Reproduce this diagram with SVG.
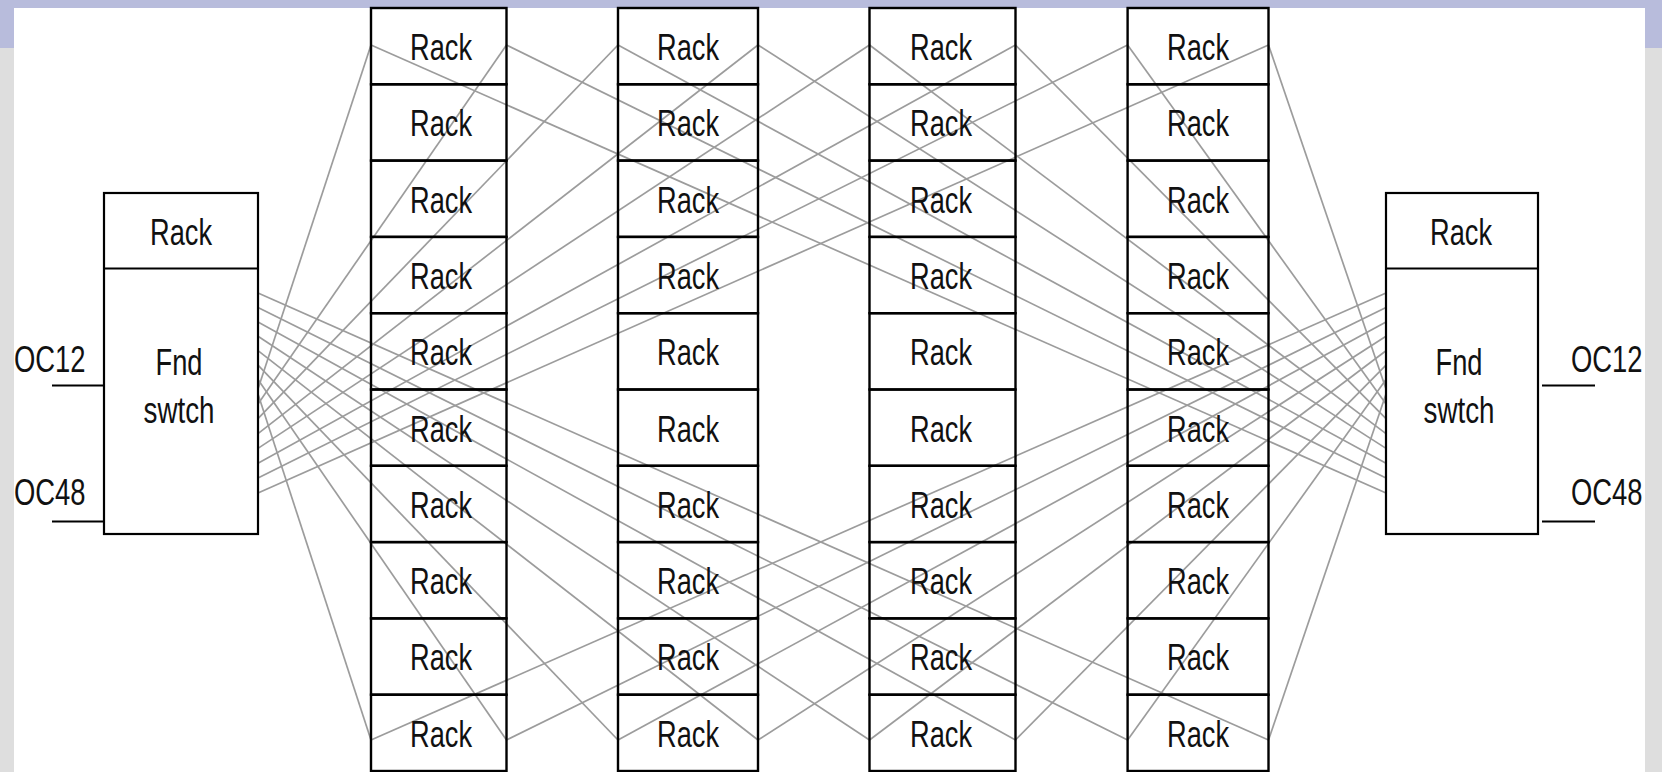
<svg xmlns="http://www.w3.org/2000/svg" width="1662" height="772" viewBox="0 0 1662 772">
<style>
.bx{fill:none;stroke:#000;stroke-width:2.4}
.sw{fill:none;stroke:#000;stroke-width:2.2}
.t{font-family:"Liberation Sans",Arial,sans-serif;font-size:37px;fill:#111;text-anchor:middle}
.lbl{font-family:"Liberation Sans",Arial,sans-serif;font-size:27.4px;fill:#111}
#connectors line{stroke:#9c9c9c;stroke-width:1.7}
.oc{stroke:#000;stroke-width:2}
</style>
<rect x="0" y="0" width="1662" height="772" fill="#dedede"/>
<rect x="0" y="0" width="1662" height="48" fill="#b8bcdc"/>
<rect x="14" y="8" width="1631" height="764" fill="#fff"/>
<g id="connectors">
<line x1="258" y1="389" x2="371" y2="45"/>
<line x1="258" y1="403.9" x2="506.5" y2="45"/>
<line x1="258" y1="418.7" x2="618" y2="45"/>
<line x1="258" y1="433.6" x2="758" y2="45"/>
<line x1="258" y1="448.4" x2="869.5" y2="45"/>
<line x1="258" y1="463.3" x2="1015.5" y2="45"/>
<line x1="258" y1="478.1" x2="1127.6" y2="45"/>
<line x1="258" y1="493" x2="1268.5" y2="45"/>
<line x1="258" y1="394" x2="371" y2="740"/>
<line x1="258" y1="379.6" x2="506.5" y2="740"/>
<line x1="258" y1="365.1" x2="618" y2="740"/>
<line x1="258" y1="350.7" x2="758" y2="740"/>
<line x1="258" y1="336.3" x2="869.5" y2="740"/>
<line x1="258" y1="321.9" x2="1015.5" y2="740"/>
<line x1="258" y1="307.4" x2="1127.6" y2="740"/>
<line x1="258" y1="293" x2="1268.5" y2="740"/>
<line x1="1386" y1="389" x2="1268.5" y2="45"/>
<line x1="1386" y1="403.9" x2="1127.6" y2="45"/>
<line x1="1386" y1="418.7" x2="1015.5" y2="45"/>
<line x1="1386" y1="433.6" x2="869.5" y2="45"/>
<line x1="1386" y1="448.4" x2="758" y2="45"/>
<line x1="1386" y1="463.3" x2="618" y2="45"/>
<line x1="1386" y1="478.1" x2="506.5" y2="45"/>
<line x1="1386" y1="493" x2="371" y2="45"/>
<line x1="1386" y1="394" x2="1268.5" y2="740"/>
<line x1="1386" y1="379.6" x2="1127.6" y2="740"/>
<line x1="1386" y1="365.1" x2="1015.5" y2="740"/>
<line x1="1386" y1="350.7" x2="869.5" y2="740"/>
<line x1="1386" y1="336.3" x2="758" y2="740"/>
<line x1="1386" y1="321.9" x2="618" y2="740"/>
<line x1="1386" y1="307.4" x2="506.5" y2="740"/>
<line x1="1386" y1="293" x2="371" y2="740"/>
</g>
<g id="switch-left">
<rect class="sw" x="104" y="193" width="154" height="341"/>
<line class="oc" x1="104" y1="268.5" x2="258" y2="268.5"/>
<text class="t" x="181" y="245" textLength="62" lengthAdjust="spacingAndGlyphs">Rack</text>
<text class="t" x="179" y="375" textLength="47" lengthAdjust="spacingAndGlyphs">Fnd</text>
<text class="t" x="179" y="423" textLength="71" lengthAdjust="spacingAndGlyphs">swtch</text>
</g>
<g id="switch-right">
<rect class="sw" x="1386" y="193" width="152" height="341"/>
<line class="oc" x1="1386" y1="268.5" x2="1538" y2="268.5"/>
<text class="t" x="1461" y="245" textLength="62" lengthAdjust="spacingAndGlyphs">Rack</text>
<text class="t" x="1459" y="375" textLength="47" lengthAdjust="spacingAndGlyphs">Fnd</text>
<text class="t" x="1459" y="423" textLength="71" lengthAdjust="spacingAndGlyphs">swtch</text>
</g>
<g id="uplinks">
<line class="oc" x1="52" y1="385.5" x2="104" y2="385.5"/>
<line class="oc" x1="52" y1="521.5" x2="104" y2="521.5"/>
<line class="oc" x1="1542" y1="385.5" x2="1595" y2="385.5"/>
<line class="oc" x1="1542" y1="521.5" x2="1595" y2="521.5"/>
<text class="lbl" transform="translate(14,372) scale(1,1.35)">OC12</text>
<text class="lbl" transform="translate(14,505) scale(1,1.35)">OC48</text>
<text class="lbl" transform="translate(1571,372) scale(1,1.35)">OC12</text>
<text class="lbl" transform="translate(1571,505) scale(1,1.35)">OC48</text>
</g>
<g id="col1">
<g id="r1-1"><rect class="bx" x="371" y="8" width="135.5" height="76.3"/><text class="t" x="441" y="60" textLength="62" lengthAdjust="spacingAndGlyphs">Rack</text></g>
<g id="r1-2"><rect class="bx" x="371" y="84.3" width="135.5" height="76.3"/><text class="t" x="441" y="136.3" textLength="62" lengthAdjust="spacingAndGlyphs">Rack</text></g>
<g id="r1-3"><rect class="bx" x="371" y="160.6" width="135.5" height="76.3"/><text class="t" x="441" y="212.6" textLength="62" lengthAdjust="spacingAndGlyphs">Rack</text></g>
<g id="r1-4"><rect class="bx" x="371" y="236.9" width="135.5" height="76.3"/><text class="t" x="441" y="288.9" textLength="62" lengthAdjust="spacingAndGlyphs">Rack</text></g>
<g id="r1-5"><rect class="bx" x="371" y="313.2" width="135.5" height="76.3"/><text class="t" x="441" y="365.2" textLength="62" lengthAdjust="spacingAndGlyphs">Rack</text></g>
<g id="r1-6"><rect class="bx" x="371" y="389.5" width="135.5" height="76.3"/><text class="t" x="441" y="441.5" textLength="62" lengthAdjust="spacingAndGlyphs">Rack</text></g>
<g id="r1-7"><rect class="bx" x="371" y="465.8" width="135.5" height="76.3"/><text class="t" x="441" y="517.8" textLength="62" lengthAdjust="spacingAndGlyphs">Rack</text></g>
<g id="r1-8"><rect class="bx" x="371" y="542.1" width="135.5" height="76.3"/><text class="t" x="441" y="594.1" textLength="62" lengthAdjust="spacingAndGlyphs">Rack</text></g>
<g id="r1-9"><rect class="bx" x="371" y="618.4" width="135.5" height="76.3"/><text class="t" x="441" y="670.4" textLength="62" lengthAdjust="spacingAndGlyphs">Rack</text></g>
<g id="r1-10"><rect class="bx" x="371" y="694.7" width="135.5" height="76.3"/><text class="t" x="441" y="746.7" textLength="62" lengthAdjust="spacingAndGlyphs">Rack</text></g>
</g>
<g id="col2">
<g id="r2-1"><rect class="bx" x="618" y="8" width="140" height="76.3"/><text class="t" x="688" y="60" textLength="62" lengthAdjust="spacingAndGlyphs">Rack</text></g>
<g id="r2-2"><rect class="bx" x="618" y="84.3" width="140" height="76.3"/><text class="t" x="688" y="136.3" textLength="62" lengthAdjust="spacingAndGlyphs">Rack</text></g>
<g id="r2-3"><rect class="bx" x="618" y="160.6" width="140" height="76.3"/><text class="t" x="688" y="212.6" textLength="62" lengthAdjust="spacingAndGlyphs">Rack</text></g>
<g id="r2-4"><rect class="bx" x="618" y="236.9" width="140" height="76.3"/><text class="t" x="688" y="288.9" textLength="62" lengthAdjust="spacingAndGlyphs">Rack</text></g>
<g id="r2-5"><rect class="bx" x="618" y="313.2" width="140" height="76.3"/><text class="t" x="688" y="365.2" textLength="62" lengthAdjust="spacingAndGlyphs">Rack</text></g>
<g id="r2-6"><rect class="bx" x="618" y="389.5" width="140" height="76.3"/><text class="t" x="688" y="441.5" textLength="62" lengthAdjust="spacingAndGlyphs">Rack</text></g>
<g id="r2-7"><rect class="bx" x="618" y="465.8" width="140" height="76.3"/><text class="t" x="688" y="517.8" textLength="62" lengthAdjust="spacingAndGlyphs">Rack</text></g>
<g id="r2-8"><rect class="bx" x="618" y="542.1" width="140" height="76.3"/><text class="t" x="688" y="594.1" textLength="62" lengthAdjust="spacingAndGlyphs">Rack</text></g>
<g id="r2-9"><rect class="bx" x="618" y="618.4" width="140" height="76.3"/><text class="t" x="688" y="670.4" textLength="62" lengthAdjust="spacingAndGlyphs">Rack</text></g>
<g id="r2-10"><rect class="bx" x="618" y="694.7" width="140" height="76.3"/><text class="t" x="688" y="746.7" textLength="62" lengthAdjust="spacingAndGlyphs">Rack</text></g>
</g>
<g id="col3">
<g id="r3-1"><rect class="bx" x="869.5" y="8" width="146" height="76.3"/><text class="t" x="941" y="60" textLength="62" lengthAdjust="spacingAndGlyphs">Rack</text></g>
<g id="r3-2"><rect class="bx" x="869.5" y="84.3" width="146" height="76.3"/><text class="t" x="941" y="136.3" textLength="62" lengthAdjust="spacingAndGlyphs">Rack</text></g>
<g id="r3-3"><rect class="bx" x="869.5" y="160.6" width="146" height="76.3"/><text class="t" x="941" y="212.6" textLength="62" lengthAdjust="spacingAndGlyphs">Rack</text></g>
<g id="r3-4"><rect class="bx" x="869.5" y="236.9" width="146" height="76.3"/><text class="t" x="941" y="288.9" textLength="62" lengthAdjust="spacingAndGlyphs">Rack</text></g>
<g id="r3-5"><rect class="bx" x="869.5" y="313.2" width="146" height="76.3"/><text class="t" x="941" y="365.2" textLength="62" lengthAdjust="spacingAndGlyphs">Rack</text></g>
<g id="r3-6"><rect class="bx" x="869.5" y="389.5" width="146" height="76.3"/><text class="t" x="941" y="441.5" textLength="62" lengthAdjust="spacingAndGlyphs">Rack</text></g>
<g id="r3-7"><rect class="bx" x="869.5" y="465.8" width="146" height="76.3"/><text class="t" x="941" y="517.8" textLength="62" lengthAdjust="spacingAndGlyphs">Rack</text></g>
<g id="r3-8"><rect class="bx" x="869.5" y="542.1" width="146" height="76.3"/><text class="t" x="941" y="594.1" textLength="62" lengthAdjust="spacingAndGlyphs">Rack</text></g>
<g id="r3-9"><rect class="bx" x="869.5" y="618.4" width="146" height="76.3"/><text class="t" x="941" y="670.4" textLength="62" lengthAdjust="spacingAndGlyphs">Rack</text></g>
<g id="r3-10"><rect class="bx" x="869.5" y="694.7" width="146" height="76.3"/><text class="t" x="941" y="746.7" textLength="62" lengthAdjust="spacingAndGlyphs">Rack</text></g>
</g>
<g id="col4">
<g id="r4-1"><rect class="bx" x="1127.6" y="8" width="140.9" height="76.3"/><text class="t" x="1198" y="60" textLength="62" lengthAdjust="spacingAndGlyphs">Rack</text></g>
<g id="r4-2"><rect class="bx" x="1127.6" y="84.3" width="140.9" height="76.3"/><text class="t" x="1198" y="136.3" textLength="62" lengthAdjust="spacingAndGlyphs">Rack</text></g>
<g id="r4-3"><rect class="bx" x="1127.6" y="160.6" width="140.9" height="76.3"/><text class="t" x="1198" y="212.6" textLength="62" lengthAdjust="spacingAndGlyphs">Rack</text></g>
<g id="r4-4"><rect class="bx" x="1127.6" y="236.9" width="140.9" height="76.3"/><text class="t" x="1198" y="288.9" textLength="62" lengthAdjust="spacingAndGlyphs">Rack</text></g>
<g id="r4-5"><rect class="bx" x="1127.6" y="313.2" width="140.9" height="76.3"/><text class="t" x="1198" y="365.2" textLength="62" lengthAdjust="spacingAndGlyphs">Rack</text></g>
<g id="r4-6"><rect class="bx" x="1127.6" y="389.5" width="140.9" height="76.3"/><text class="t" x="1198" y="441.5" textLength="62" lengthAdjust="spacingAndGlyphs">Rack</text></g>
<g id="r4-7"><rect class="bx" x="1127.6" y="465.8" width="140.9" height="76.3"/><text class="t" x="1198" y="517.8" textLength="62" lengthAdjust="spacingAndGlyphs">Rack</text></g>
<g id="r4-8"><rect class="bx" x="1127.6" y="542.1" width="140.9" height="76.3"/><text class="t" x="1198" y="594.1" textLength="62" lengthAdjust="spacingAndGlyphs">Rack</text></g>
<g id="r4-9"><rect class="bx" x="1127.6" y="618.4" width="140.9" height="76.3"/><text class="t" x="1198" y="670.4" textLength="62" lengthAdjust="spacingAndGlyphs">Rack</text></g>
<g id="r4-10"><rect class="bx" x="1127.6" y="694.7" width="140.9" height="76.3"/><text class="t" x="1198" y="746.7" textLength="62" lengthAdjust="spacingAndGlyphs">Rack</text></g>
</g>
</svg>
